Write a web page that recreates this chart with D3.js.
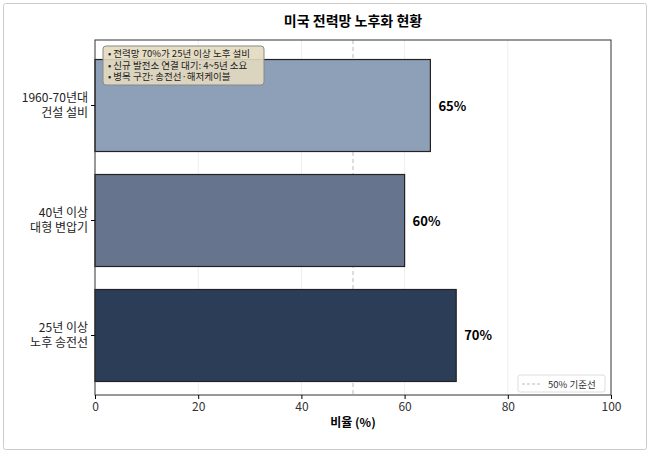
<!DOCTYPE html><html><head><meta charset="utf-8"><script src="https://cdn.jsdelivr.net/npm/d3@7"></script>
<style>body{margin:0;background:#fff;font-family:"Noto Sans CJK KR","Noto Sans",sans-serif}</style></head><body><svg id="c" width="650" height="453"></svg><script>
const categories=["1960-70년대\n건설 설비","40년 이상\n대형 변압기","25년 이상\n노후 송전선"];
const values=[65,60,70];
const colors=["#8e9fb8","#67748e","#2c3d58"];
const xTicks=[0,20,40,60,80,100];
const notes=["전력망 70%가 25년 이상 노후 설비","신규 발전소 연결 대기: 4~5년 소요","병목 구간: 송전선·해저케이블"];
const svg=d3.select("#c");
svg.append("rect").attr("x",3.5).attr("y",3.5).attr("width",643).attr("height",446).attr("fill","#fff").attr("stroke","#ccc").attr("rx",2);
const m={l:95,r:611,t:40,b:395};
const x=d3.scaleLinear().domain([0,100]).range([m.l,m.r]);
const y=d3.scaleBand().domain(categories).range([m.t+6,m.b]).paddingInner(0.2).paddingOuter(0.1175);
const g=svg.append("g");
g.selectAll(".gl").data(xTicks.slice(1,-1)).join("line").attr("x1",d=>x(d)).attr("x2",d=>x(d)).attr("y1",m.t).attr("y2",m.b).attr("stroke","#eee");
g.append("line").attr("x1",x(50)).attr("x2",x(50)).attr("y1",m.t).attr("y2",m.b).attr("stroke","#bbb").attr("stroke-dasharray","4,3");
g.selectAll(".b").data(categories).join("rect").attr("x",x(0)).attr("y",d=>y(d)).attr("height",y.bandwidth()).attr("width",(d,i)=>x(values[i])-x(0)).attr("fill",(d,i)=>colors[i]).attr("stroke","#222").attr("stroke-width",1.2);
g.selectAll(".v").data(categories).join("text").attr("x",(d,i)=>x(values[i])+8).attr("y",d=>y(d)+y.bandwidth()/2+5).text((d,i)=>values[i]+"%").attr("font-size",13).attr("font-weight","bold");
svg.append("rect").attr("x",m.l).attr("y",m.t).attr("width",m.r-m.l).attr("height",m.b-m.t).attr("fill","none").attr("stroke","#333");
const ax=svg.append("g").attr("transform",`translate(0,${m.b})`).call(d3.axisBottom(x).tickValues(xTicks).tickSize(4));
ax.select(".domain").remove();ax.selectAll("text").attr("font-size",12).attr("fill","#333").attr("font-family","Noto Sans CJK KR");
const ay=svg.append("g").attr("transform",`translate(${m.l},0)`).call(d3.axisLeft(y).tickSize(4).tickFormat(""));
ay.select(".domain").remove();
categories.forEach(c=>{const lines=c.split("\n");const t=svg.append("text").attr("text-anchor","end").attr("font-size",12).attr("fill","#222");
lines.forEach((l,i)=>t.append("tspan").attr("x",m.l-7).attr("y",y(c)+y.bandwidth()/2+(i-0.5)*15+4).text(l));});
svg.append("text").attr("x",353).attr("y",427).attr("text-anchor","middle").attr("font-size",12).attr("font-weight","bold").text("비율 (%)");
svg.append("text").attr("x",353).attr("y",26).attr("text-anchor","middle").attr("font-size",14).attr("font-weight","bold").text("미국 전력망 노후화 현황");
svg.append("rect").attr("x",103).attr("y",46).attr("width",161).attr("height",39).attr("rx",3).attr("fill","#e3d9bf").attr("fill-opacity",0.9).attr("stroke","#888");
notes.forEach((n,i)=>svg.append("text").attr("x",108).attr("y",57+i*11.5).attr("font-size",9.5).attr("fill","#222").text("•  "+n));
svg.append("rect").attr("x",518).attr("y",375).attr("width",87).attr("height",17).attr("rx",2).attr("fill","#fff").attr("stroke","#ddd");
svg.append("line").attr("x1",522).attr("x2",541).attr("y1",384).attr("y2",384).attr("stroke","#bbb").attr("stroke-dasharray","3,2");
svg.append("text").attr("x",548).attr("y",388).attr("font-size",9.5).attr("fill","#333").text("50% 기준선");
</script></body></html>
